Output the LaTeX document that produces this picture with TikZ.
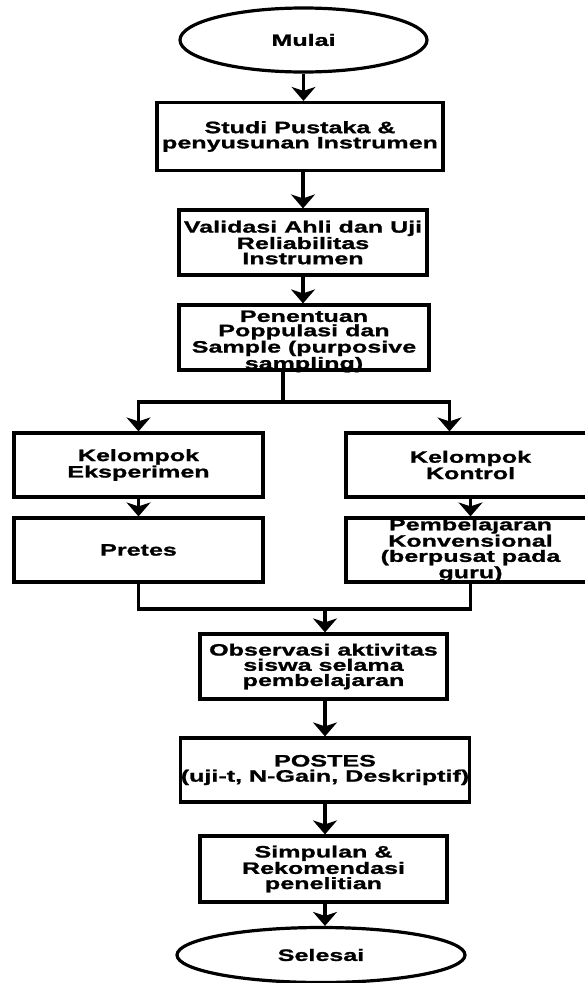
\documentclass[tikz,border=0pt]{standalone}
\usepackage{fontspec}
\setmainfont[FakeStretch=1.52, BoldFeatures={FakeBold=1.2}]{Liberation Sans}
\usetikzlibrary{shapes.geometric,arrows.meta}
\tikzset{
  box/.style={draw, line width=3.2pt, rectangle, inner sep=0pt, align=center,
    font=\fontsize{16.5}{15.2}\selectfont\bfseries},
  oval/.style={draw, line width=3.2pt, ellipse, inner sep=0pt, align=center,
    font=\fontsize{16.5}{15.2}\selectfont\bfseries},
  tighttxt/.style={inner sep=0pt, align=center,
    font=\fontsize{16.5}{14.3}\selectfont\bfseries},
  arr/.style={line width=3.4pt, -{Stealth[length=14pt,width=24pt,inset=4pt]}},
  ln/.style={line width=3.4pt}
}
\begin{document}
\begin{tikzpicture}[x=1pt,y=-1pt]
\useasboundingbox (0,0) rectangle (585,983);
\clip (0,0) rectangle (585,983);
\fill[white] (0,0) rectangle (585,983);
\node[oval, minimum width=247, minimum height=64] (mulai) at (303.5,40) {Mulai};
\node[box, minimum width=286, minimum height=68] (studi) at (300,136.5) {Studi Pustaka \&\\penyusunan Instrumen};
\node[box, minimum width=248, minimum height=65] (validasi) at (303,242.5) {Validasi Ahli dan Uji\\Reliabilitas\\Instrumen};
\node[box, minimum width=250, minimum height=65,
  label={[tighttxt, yshift=-4pt]center:Penentuan\\Poppulasi dan\\Sample (purposive\\sampling)}] (penentuan) at (304,337.5) {};
\node[box, minimum width=249, minimum height=64] (kelEks) at (138.5,465) {Kelompok\\Eksperimen};
\node[box, minimum width=249, minimum height=64] (kelKon) at (470.5,465) {Kelompok\\Kontrol};
\node[box, minimum width=249, minimum height=64] (pretes) at (138.5,550) {Pretes};
\node[box, minimum width=249, minimum height=64] (pembel) at (470.5,550) {Pembelajaran\\Konvensional\\(berpusat pada\\guru)};
\node[box, minimum width=247, minimum height=65] (observasi) at (323.5,666.5) {Observasi aktivitas\\siswa selama\\pembelajaran};
\node[box, minimum width=280, minimum height=64] (postes) at (325,770) {POSTES\\(uji-t, N-Gain, Deskriptif)};
\node[box, minimum width=247, minimum height=66] (simpulan) at (323.5,869) {Simpulan \&\\Rekomendasi\\penelitian};
\node[oval, minimum width=288, minimum height=55] (selesai) at (321,955) {Selesai};
\coordinate (br) at (283,402);
\coordinate (mg) at (325,609);
\draw[arr] (mulai.south) -- (mulai.south |- studi.north);
\draw[arr] (validasi.north |- studi.south) -- (validasi.north);
\draw[arr] (validasi.south) -- (validasi.south |- penentuan.north);
\draw[ln] (penentuan.south -| br) -- (br);
\draw[arr] (br) -| (kelEks.north);
\draw[arr] (br) -| ([xshift=-21pt]kelKon.north);
\draw[arr] (kelEks.south) -- (pretes.north);
\draw[arr] (kelKon.south) -- (pembel.north);
\draw[ln] (pretes.south) |- (pembel.south |- mg) -- (pembel.south);
\draw[arr] (mg) -- (mg |- observasi.north);
\draw[arr] (postes.north |- observasi.south) -- (postes.north);
\draw[arr] (postes.south) -- (postes.south |- simpulan.north);
\draw[arr] (postes.south |- simpulan.south) -- (postes.south |- selesai.north);
\end{tikzpicture}
\end{document}
